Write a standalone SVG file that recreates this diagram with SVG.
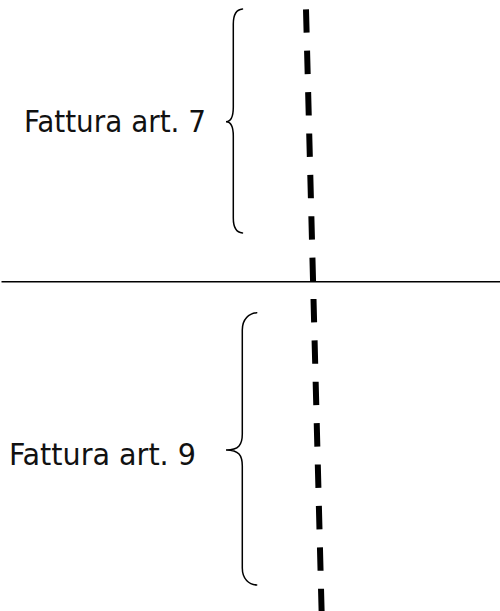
<svg xmlns="http://www.w3.org/2000/svg" width="500" height="611" viewBox="0 0 500 611">
  <style>
    .label { font-family: "DejaVu Sans Condensed", "DejaVu Sans", sans-serif; font-size: 30px; fill: #111; }
    .brace { fill: none; stroke: #000; stroke-width: 1.5; stroke-linecap: round; }
    .divider { stroke: #000; stroke-width: 1.6; }
    .axis { stroke: #000; stroke-width: 6; stroke-linecap: butt; }
  </style>
  <rect width="500" height="611" fill="#fff"/>

  <!-- separators: horizontal rule and slanted dashed line -->
  <g id="connectors">
    <line class="divider" x1="1.5" y1="281.7" x2="500" y2="281.7"/>
    <line class="axis" x1="306" y1="9.3" x2="321.6" y2="611" stroke-dasharray="23.4,18"/>
  </g>

  <!-- upper section: invoice art. 7 -->
  <g id="fattura-art7">
    <path class="brace" d="M242.5,9 C236.5,9.5 233.3,14 233.3,24 L233.3,107 C233.3,117 230.5,121.7 226,121.7 C230.5,121.7 233.3,126.5 233.3,136 L233.3,218 C233.3,228 236.5,232.5 242.5,233"/>
    <text class="label" x="24" y="131.5" textLength="182" lengthAdjust="spacingAndGlyphs">Fattura art. 7</text>
  </g>

  <!-- lower section: invoice art. 9 -->
  <g id="fattura-art9">
    <path class="brace" d="M256.7,312.7 C249,313.5 242.3,319 242.3,330 L242.3,434 C242.3,444.5 239,450 226,450 C239,450 242.3,455.5 242.3,466 L242.3,568 C242.3,579 249,584.5 256.7,585"/>
    <text class="label" x="9" y="465" textLength="187" lengthAdjust="spacingAndGlyphs">Fattura art. 9</text>
  </g>
</svg>
